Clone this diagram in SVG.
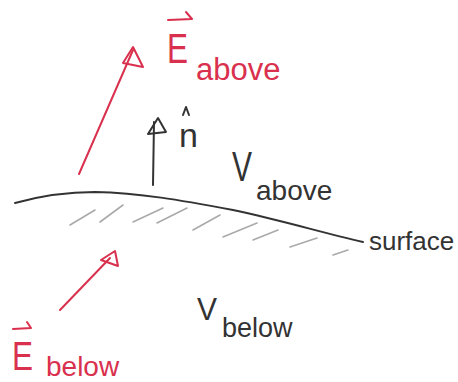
<svg xmlns="http://www.w3.org/2000/svg" width="458" height="382" viewBox="0 0 458 382">
<style>
.red{fill:none;stroke:#d9304e;stroke-width:2;stroke-linecap:round;stroke-linejoin:round}
.blk{fill:none;stroke:#333;stroke-width:2;stroke-linecap:round;stroke-linejoin:round}
.hatch{fill:none;stroke:#aaa;stroke-width:1.6;stroke-linecap:round}
.tr{fill:#d9304e;font-family:"Liberation Sans","DejaVu Sans",sans-serif}
.tb{fill:#333;font-family:"Liberation Sans","DejaVu Sans",sans-serif}
</style>
<rect width="458" height="382" fill="#fff"/>
<g id="surface">
<path class="blk" d="M15,203 C40,196 70,192 95,192 C140,193 180,200 233,210 C280,220 320,232 363,242"/>
<g id="hatching">
<path class="hatch" d="M70,225 L95,210 M100,222 L123,205 M133,222 L163,208 M157,223 L187,208 M193,230 L220,215 M223,237 L257,223 M253,240 L278,230 M290,247 L317,238 M333,255 L348,250"/>
</g>
<text class="tb" x="369" y="250" font-size="26">surface</text>
</g>
<g id="connectors">
<g id="e-above-arrow">
<path class="red" d="M79,174 L133,50"/>
<path class="red" d="M123,63 L133,47 L143,67 Z" fill="#fff"/>
</g>
<g id="n-arrow">
<path class="blk" d="M153,185 L154,122"/>
<path class="blk" d="M148,134 L158,118 L166,132 Z" fill="#fff"/>
</g>
<g id="e-below-arrow">
<path class="red" d="M60,310 L110,258"/>
<path class="red" d="M101,260 L115,251 L118,266 Z" fill="#fff"/>
</g>
</g>
<g id="label-e-above">
<path class="red" d="M168,20 L192,19 M186,12 L192,19"/>
<text class="tr" x="167" y="63" font-size="43" textLength="21" lengthAdjust="spacingAndGlyphs">E</text>
<text class="tr" x="196" y="80" font-size="31">above</text>
</g>
<g id="label-n">
<text class="tb" x="179" y="147" font-size="34">n</text>
<path class="blk" d="M183,115 L186,107 L189,115"/>
</g>
<g id="label-v-above">
<text class="tb" x="232" y="181" font-size="42" textLength="20" lengthAdjust="spacingAndGlyphs">V</text>
<text class="tb" x="256" y="200" font-size="28">above</text>
</g>
<g id="label-v-below">
<text class="tb" x="197" y="320" font-size="31" textLength="20" lengthAdjust="spacingAndGlyphs">V</text>
<text class="tb" x="222" y="337" font-size="27">below</text>
</g>
<g id="label-e-below">
<path class="red" d="M13,329 L31,328 M27,322 L31,328"/>
<text class="tr" x="12" y="370" font-size="40" textLength="21" lengthAdjust="spacingAndGlyphs">E</text>
<text class="tr" x="46" y="376" font-size="28">below</text>
</g>
</svg>
